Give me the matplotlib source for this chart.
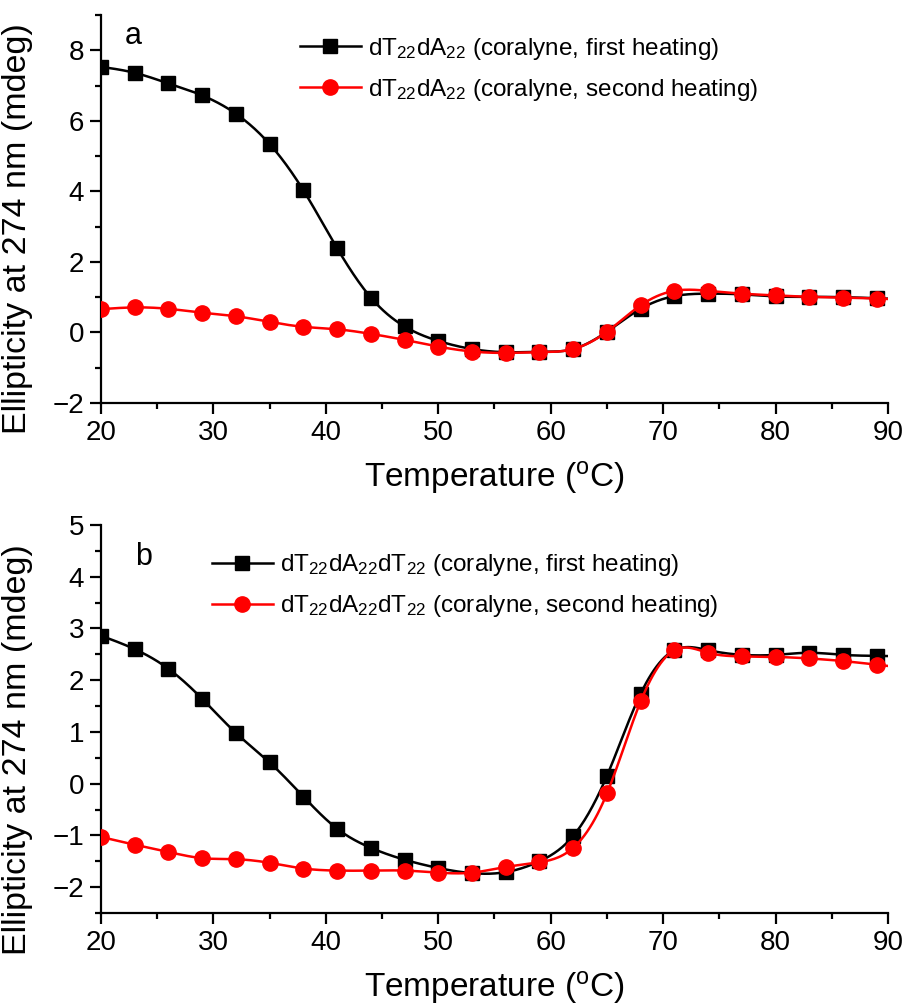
import numpy as np
import matplotlib
matplotlib.use("Agg")
import matplotlib.pyplot as plt
from matplotlib.ticker import MultipleLocator

plt.rcParams['font.family'] = ['Liberation Sans', 'DejaVu Sans']
plt.rcParams['mathtext.fontset'] = 'custom'
plt.rcParams['mathtext.rm'] = 'Liberation Sans'
plt.rcParams['mathtext.it'] = 'Liberation Sans'
plt.rcParams['mathtext.bf'] = 'Liberation Sans'

# ---- data ----
temp = [20, 23, 26, 29, 32, 35, 38, 41, 44, 47, 50, 53, 56, 59, 62, 65, 68, 71, 74, 77, 80, 83, 86, 89]

a_first = [7.53, 7.36, 7.06, 6.72, 6.20, 5.34, 4.03, 2.39, 0.99, 0.17, -0.24, -0.47, -0.56, -0.55, -0.47, 0.02,
           0.67, 1.03, 1.10, 1.08, 1.02, 1.01, 1.00, 0.97]
a_second = [0.66, 0.71, 0.67, 0.56, 0.46, 0.30, 0.16, 0.09, -0.04, -0.21, -0.40, -0.54, -0.58, -0.56, -0.47, 0.02,
            0.77, 1.18, 1.18, 1.10, 1.05, 1.01, 0.99, 0.96]

b_first = [2.86, 2.60, 2.22, 1.64, 0.98, 0.41, -0.25, -0.87, -1.24, -1.47, -1.63, -1.73, -1.71, -1.50, -1.01, 0.15,
           1.74, 2.58, 2.58, 2.49, 2.49, 2.53, 2.49, 2.47]
b_second = [-1.03, -1.18, -1.32, -1.44, -1.46, -1.53, -1.64, -1.68, -1.68, -1.68, -1.72, -1.72, -1.61, -1.52, -1.24,
            -0.19, 1.59, 2.58, 2.53, 2.46, 2.45, 2.42, 2.37, 2.30]

label_a1 = r'dT$_{22}$dA$_{22}$ (coralyne, first heating)'
label_a2 = r'dT$_{22}$dA$_{22}$ (coralyne, second heating)'
label_b1 = r'dT$_{22}$dA$_{22}$dT$_{22}$ (coralyne, first heating)'
label_b2 = r'dT$_{22}$dA$_{22}$dT$_{22}$ (coralyne, second heating)'


def natural_spline(x, y, xs):
    x = np.asarray(x, float)
    y = np.asarray(y, float)
    n = len(x)
    h = np.diff(x)
    A = np.zeros((n, n))
    r = np.zeros(n)
    A[0, 0] = 1
    A[-1, -1] = 1
    for i in range(1, n - 1):
        A[i, i - 1] = h[i - 1]
        A[i, i] = 2 * (h[i - 1] + h[i])
        A[i, i + 1] = h[i]
        r[i] = 3 * ((y[i + 1] - y[i]) / h[i] - (y[i] - y[i - 1]) / h[i - 1])
    c = np.linalg.solve(A, r)
    b = np.zeros(n - 1)
    d = np.zeros(n - 1)
    for i in range(n - 1):
        b[i] = (y[i + 1] - y[i]) / h[i] - h[i] * (2 * c[i] + c[i + 1]) / 3
        d[i] = (c[i + 1] - c[i]) / (3 * h[i])
    idx = np.clip(np.searchsorted(x, xs) - 1, 0, n - 2)
    dx = xs - x[idx]
    return y[idx] + b[idx] * dx + c[idx] * dx ** 2 + d[idx] * dx ** 3


fig = plt.figure(figsize=(9.06, 10.05), dpi=100)
ax_a = fig.add_axes([101 / 906, 1 - 403 / 1005, 787 / 906, 388 / 1005])
ax_b = fig.add_axes([101 / 906, 1 - 913 / 1005, 787 / 906, 388 / 1005])

xs = np.linspace(temp[0], 90, 600)


def draw(ax, first, second, l1, l2):
    ax.plot(xs, natural_spline(temp, first, xs), color='black', lw=1.8, zorder=2)
    ax.plot(temp, first, 's', color='black', ms=10, zorder=3)
    ax.plot(xs, natural_spline(temp, second, xs), color='red', lw=1.8, zorder=4)
    ax.plot(temp, second, 'o', color='red', ms=11, zorder=5)
    h1, = ax.plot([], [], '-s', color='black', lw=1.8, ms=10)
    h2, = ax.plot([], [], '-o', color='red', lw=1.8, ms=11)
    return [h1, h2], [l1, l2]


def style(ax):
    for s in ['top', 'right']:
        ax.spines[s].set_visible(False)
    for s in ['left', 'bottom']:
        ax.spines[s].set_linewidth(1.6)
    ax.set_xlim(20, 90)
    ax.xaxis.set_major_locator(MultipleLocator(10))
    ax.xaxis.set_minor_locator(MultipleLocator(5))
    ax.tick_params(which='major', direction='out', length=8, width=1.6, labelsize=20, pad=4)
    ax.tick_params(which='minor', direction='out', length=4, width=1.6)
    ax.set_xlabel(r'Temperature ($^{\mathrm{o}}$C)', fontsize=24)
    ax.set_ylabel('Ellipticity at 274 nm (mdeg)', fontsize=24.5)


hs, ls = draw(ax_a, a_first, a_second, label_a1, label_a2)
style(ax_a)
ax_a.set_ylim(-2, 9)
ax_a.yaxis.set_major_locator(MultipleLocator(2))
ax_a.yaxis.set_minor_locator(MultipleLocator(1))
ax_a.set_yticks([-2, 0, 2, 4, 6, 8])
ax_a.xaxis.set_label_coords(0.5, -0.145)
ax_a.yaxis.set_label_coords(-0.086, 0.45)
ax_a.text(0.03, 0.985, 'a', transform=ax_a.transAxes, fontsize=22, va='top', ha='left')
ax_a.legend(hs, ls, loc='upper left', bbox_to_anchor=(0.253, 0.947), frameon=False, fontsize=17.5,
            handlelength=2.5, handletextpad=0.3, borderaxespad=0, borderpad=0, labelspacing=0.62)

hs, ls = draw(ax_b, b_first, b_second, label_b1, label_b2)
style(ax_b)
ax_b.set_ylim(-2.5, 5)
ax_b.yaxis.set_major_locator(MultipleLocator(1))
ax_b.yaxis.set_minor_locator(MultipleLocator(0.5))
ax_b.set_yticks([-2, -1, 0, 1, 2, 3, 4, 5])
ax_b.xaxis.set_label_coords(0.5, -0.145)
ax_b.yaxis.set_label_coords(-0.086, 0.42)
ax_b.text(0.043, 0.955, 'b', transform=ax_b.transAxes, fontsize=22, va='top', ha='left')
ax_b.legend(hs, ls, loc='upper left', bbox_to_anchor=(0.141, 0.93), frameon=False, fontsize=17.5,
            handlelength=2.5, handletextpad=0.3, borderaxespad=0, borderpad=0, labelspacing=0.62)

fig.savefig('out.png', dpi=100)
